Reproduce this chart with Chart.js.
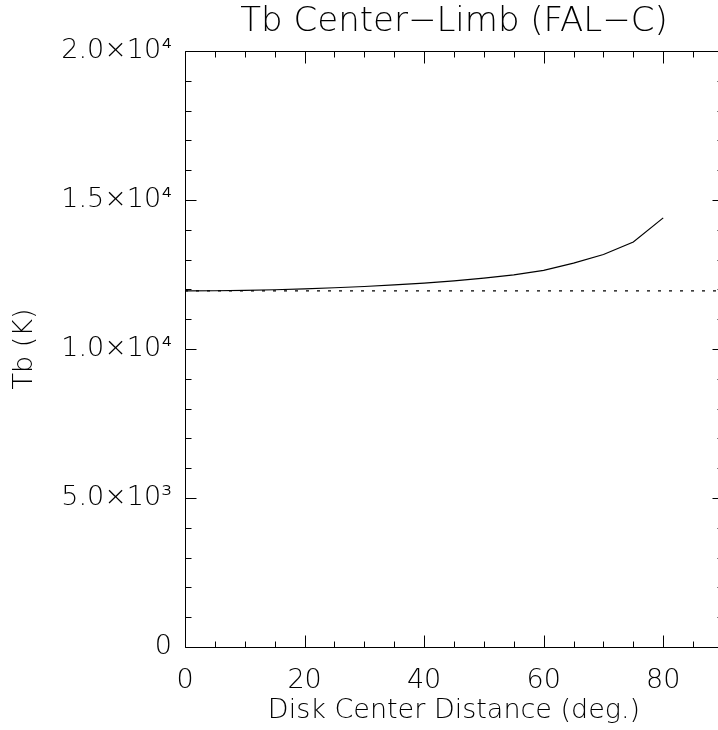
<!DOCTYPE html>
<html>
<head>
<meta charset="utf-8">
<script src="https://cdn.jsdelivr.net/npm/chart.js@4/dist/chart.umd.min.js"></script>
<style>
  html, body { margin: 0; padding: 0; background: #fff; overflow: hidden; }
  #wrap { width: 760px; height: 730px; }
</style>
</head>
<body>
<div id="wrap"><canvas id="c" width="760" height="730"></canvas></div>
<script>
// ---- data ----
const angles = [0, 5, 10, 15, 20, 25, 30, 35, 40, 45, 50, 55, 60, 65, 70, 75, 80];
const tbValues = [11950, 11955, 11968, 11988, 12018, 12055, 12098, 12150, 12212, 12288, 12378, 12490, 12640, 12880, 13170, 13590, 14400];
const refLevel = 11950;
const refRange = [0, 90];
const xRange = [0, 90];
const yRange = [0, 20000];
const xMajorStep = 20, xMinorStep = 5;
const yMajorStep = 5000, yMinorStep = 1000;
const yTickLabels = { 0: '0', 5000: '5.0×10³', 10000: '1.0×10⁴', 15000: '1.5×10⁴', 20000: '2.0×10⁴' };
const titleText = 'Tb Center\u2212Limb (FAL\u2212C)';
const xTitle = 'Disk Center Distance (deg.)';
const yTitle = 'Tb (K)';

const FONT = "'DejaVu Sans', 'Liberation Sans', sans-serif";

const framePlugin = {
  id: 'frame',
  afterDraw(chart) {
    const { ctx, chartArea: { left, right, top, bottom }, scales: { x, y } } = chart;
    ctx.save();
    ctx.strokeStyle = '#000';
    ctx.lineWidth = 1;
    const L = Math.round(left) + 0.5, R = Math.round(right) + 0.5;
    const T = Math.round(top) + 0.5, B = Math.round(bottom) + 0.5;
    ctx.beginPath();
    ctx.rect(L, T, R - L, B - T);
    for (let v = xRange[0]; v <= xRange[1]; v += xMinorStep) {
      const px = Math.round(x.getPixelForValue(v)) + 0.5;
      const len = (v % xMajorStep === 0) ? 12 : 6;
      ctx.moveTo(px, B); ctx.lineTo(px, B - len);
      ctx.moveTo(px, T); ctx.lineTo(px, T + len);
    }
    for (let v = yRange[0]; v <= yRange[1]; v += yMinorStep) {
      const py = Math.round(y.getPixelForValue(v)) + 0.5;
      const len = (v % yMajorStep === 0) ? 11 : 6;
      ctx.moveTo(L, py); ctx.lineTo(L + len, py);
      ctx.moveTo(R, py); ctx.lineTo(R - len, py);
    }
    ctx.stroke();
    ctx.restore();
  }
};

new Chart(document.getElementById('c'), {
  type: 'line',
  data: {
    datasets: [
      {
        label: 'Tb',
        data: angles.map((a, i) => ({ x: a, y: tbValues[i] })),
        borderColor: '#000',
        borderWidth: 1.2,
        pointRadius: 0,
        tension: 0,
        fill: false
      },
      {
        label: 'ref',
        data: refRange.map(a => ({ x: a, y: refLevel })),
        borderColor: '#000',
        borderWidth: 1.2,
        borderDash: [3, 8],
        pointRadius: 0,
        fill: false
      }
    ]
  },
  options: {
    responsive: false,
    animation: false,
    events: [],
    layout: { padding: { left: 0, right: 37, top: 0, bottom: 0 } },
    plugins: {
      legend: { display: false },
      tooltip: { enabled: false },
      title: {
        display: true,
        text: titleText,
        fullSize: false,
        color: '#000',
        font: { family: FONT, size: 34, weight: '200', lineHeight: 1.2 },
        padding: { top: 2, bottom: 8.2 }
      }
    },
    scales: {
      x: {
        type: 'linear',
        min: xRange[0], max: xRange[1],
        grid: { display: false, drawTicks: false },
        border: { display: false },
        ticks: {
          stepSize: xMajorStep,
          includeBounds: false,
          color: '#000',
          padding: 18,
          maxRotation: 0,
          font: { family: FONT, size: 27, weight: '200' }
        },
        title: {
          display: true, text: xTitle, color: '#000',
          font: { family: FONT, size: 27, weight: '200', lineHeight: 1.2 },
          padding: { top: 0, bottom: 3 }
        },
        afterFit(scale) { scale.height = 83; }
      },
      y: {
        type: 'linear',
        min: yRange[0], max: yRange[1],
        grid: { display: false, drawTicks: false },
        border: { display: false },
        ticks: {
          stepSize: yMajorStep,
          color: '#000',
          padding: 13,
          font: { family: FONT, size: 27, weight: '200' },
          callback: (v) => yTickLabels[v] !== undefined ? yTickLabels[v] : ''
        },
        title: {
          display: true, text: yTitle, color: '#000',
          font: { family: FONT, size: 27, weight: '200', lineHeight: 1.2 },
          padding: { top: 9, bottom: 0 }
        },
        afterFit(scale) { scale.width = 185; }
      }
    }
  },
  plugins: [framePlugin]
});
</script>
</body>
</html>
